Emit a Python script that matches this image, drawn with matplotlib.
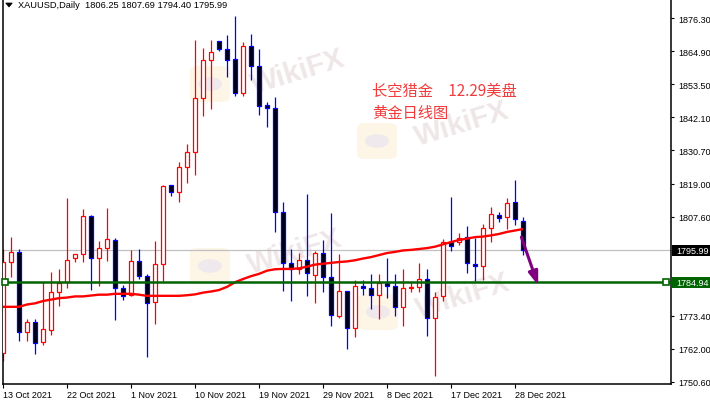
import matplotlib
matplotlib.use('Agg')
import matplotlib.pyplot as plt
from matplotlib.patches import FancyBboxPatch, Circle, Rectangle, Polygon
import matplotlib.transforms as mtransforms
import numpy as np

plt.rcParams['font.family'] = ['Liberation Sans', 'DejaVu Sans']

# ---------------- data (XAUUSD daily, 13 Oct 2021 - 29 Dec 2021, incl. Sunday bars) ----------------
opens = [1760.5, 1792.0, 1795.4, 1767.7, 1771.1, 1764.2, 1768.6, 1781.7, 1785.0, 1793.3,
         1794.9, 1807.8, 1793.5, 1796.7, 1799.5, 1782.9, 1780.7, 1792.2, 1787.1, 1778.1,
         1791.2, 1818.6, 1816.1, 1824.8, 1829.9, 1848.6, 1862.0, 1868.3, 1865.7, 1862.2,
         1850.4, 1866.6, 1859.7, 1846.2, 1845.2, 1809.2, 1791.6, 1789.6, 1792.7, 1787.6,
         1795.0, 1786.7, 1773.4, 1781.9, 1769.1, 1783.6, 1783.0, 1780.7, 1784.7, 1783.6,
         1776.3, 1782.9, 1783.3, 1786.1, 1772.5, 1780.1, 1799.0, 1799.0, 1800.5, 1791.4,
         1790.5, 1803.7, 1808.2, 1807.5, 1812.7, 1806.25]
highs = [1796.5, 1800.5, 1796.5, 1772.3, 1772.3, 1785.0, 1788.4, 1789.6, 1814.1, 1794.9,
         1810.3, 1808.3, 1799.3, 1810.7, 1800.2, 1784.1, 1796.2, 1796.5, 1787.9, 1799.3,
         1818.5, 1818.8, 1826.7, 1832.8, 1868.8, 1866.0, 1868.8, 1868.5, 1870.5, 1877.2,
         1868.0, 1870.9, 1865.7, 1847.2, 1849.0, 1812.7, 1796.5, 1795.1, 1815.5, 1795.9,
         1799.6, 1808.9, 1794.8, 1782.1, 1785.9, 1785.8, 1787.9, 1787.9, 1793.4, 1787.9,
         1789.6, 1785.0, 1791.7, 1789.6, 1781.5, 1800.0, 1814.4, 1802.0, 1804.4, 1800.2,
         1805.2, 1810.9, 1809.2, 1814.0, 1820.4, 1807.69]
lows = [1757.8, 1786.7, 1764.8, 1764.8, 1760.2, 1763.3, 1766.8, 1776.7, 1782.9, 1792.1,
        1792.1, 1782.4, 1783.6, 1792.5, 1772.0, 1779.0, 1780.3, 1786.1, 1759.0, 1770.7,
        1785.4, 1814.9, 1812.7, 1819.2, 1822.2, 1842.6, 1844.9, 1865.1, 1856.1, 1849.5,
        1849.5, 1855.1, 1843.0, 1838.8, 1802.3, 1782.1, 1778.6, 1787.9, 1780.3, 1777.8,
        1781.5, 1770.0, 1772.5, 1761.9, 1766.2, 1780.6, 1775.7, 1772.3, 1779.5, 1773.4,
        1770.0, 1781.7, 1781.7, 1766.5, 1752.7, 1778.5, 1795.9, 1797.9, 1788.2, 1785.5,
        1785.9, 1798.8, 1805.9, 1803.5, 1804.9, 1794.40]
closes = [1792.0, 1795.4, 1767.7, 1771.1, 1764.0, 1768.8, 1781.5, 1784.7, 1792.6, 1794.7,
          1807.8, 1793.5, 1796.7, 1800.0, 1782.9, 1780.1, 1792.2, 1787.3, 1777.8, 1791.2,
          1818.2, 1816.1, 1824.8, 1829.9, 1848.6, 1861.9, 1864.5, 1865.7, 1862.0, 1850.4,
          1866.6, 1859.7, 1845.9, 1845.2, 1809.2, 1791.6, 1789.6, 1792.7, 1788.1, 1795.1,
          1786.7, 1773.7, 1782.1, 1769.1, 1783.6, 1782.9, 1780.7, 1784.6, 1783.6, 1776.3,
          1782.9, 1783.4, 1786.1, 1772.5, 1779.8, 1798.8, 1797.6, 1800.2, 1791.6, 1790.5,
          1803.7, 1808.5, 1807.3, 1812.3, 1806.9, 1795.99]
ma_line = [1776.5, 1776.5, 1776.5, 1777.3, 1777.7, 1778.5, 1779.0, 1779.5, 1779.7, 1780.1,
           1780.1, 1780.4, 1780.7, 1780.7, 1781.0, 1781.0, 1781.0, 1780.7, 1780.3, 1780.3,
           1780.3, 1780.3, 1780.3, 1780.5, 1780.8, 1781.4, 1781.8, 1782.3, 1783.4, 1785.0,
           1786.1, 1787.1, 1787.9, 1789.0, 1789.5, 1789.6, 1789.6, 1789.8, 1790.4, 1791.1,
           1791.4, 1791.7, 1792.0, 1792.2, 1792.6, 1793.2, 1793.7, 1794.4, 1795.1, 1795.5,
           1796.0, 1796.2, 1796.5, 1796.8, 1797.3, 1798.1, 1798.9, 1799.6, 1800.1, 1800.6,
           1800.8, 1801.2, 1801.7, 1802.4, 1802.9, 1803.4]

date_tick_bars = [0, 8, 16, 24, 32, 40, 48, 56, 64]
date_labels = ['13 Oct 2021', '22 Oct 2021', '1 Nov 2021', '10 Nov 2021', '19 Nov 2021',
               '29 Nov 2021', '8 Dec 2021', '17 Dec 2021', '28 Dec 2021']
price_ticks = [1750.60, 1762.00, 1773.40, 1807.60, 1819.00, 1830.70, 1842.10, 1853.50,
               1864.90, 1876.30]
bid_price = 1795.99
level_price = 1784.94
title_text = 'XAUUSD,Daily  1806.25 1807.69 1794.40 1795.99'
note_line1 = '长空猎金\u300012.29美盘'
note_line2 = '黄金日线图'
arrow_start = (64.8, 1800.6)
arrow_end = (66.9, 1783.9)

# ---------------- figure ----------------
W, H = 710, 406
fig = plt.figure(figsize=(W / 100, H / 100), dpi=100, facecolor='white')
ax = fig.add_axes([2.5 / W, (H - 385) / H, 668 / W, 385 / H])
ax.set_facecolor('white')
ax.set_xlim(-0.0625, 83.44)
ax.set_ylim(1749.80, 1882.98)


def fx(px):
    return px / W


def fy(py):
    return 1 - py / H


# watermarks (behind everything)
wms = [((210, 85), (298, 72)), ((210, 267), (295, 252)),
       ((377, 142), (462, 124)), ((378, 313), (463, 296))]
for (lx, ly), (tx, ty) in wms:
    box = FancyBboxPatch((fx(lx - 20), fy(ly + 18)), 40 / W, 36 / H,
                         boxstyle='round,pad=0,rounding_size=0.012',
                         transform=fig.transFigure, fc='#fdf6e6', ec='none',
                         zorder=0.2)
    ax.add_patch(box)
    circ = Circle((fx(lx), fy(ly)), 12 / W, transform=fig.transFigure,
                  fc='#efe9ee', ec='none', zorder=0.3)
    ax.add_patch(circ)
    ax.text(fx(tx), fy(ty), 'WikiFX', transform=fig.transFigure, fontsize=21,
            fontweight='bold', color='#efe7e7', rotation=17, ha='center',
            va='center', zorder=0.4)

x = np.arange(len(opens))
o = np.array(opens)
c = np.array(closes)
hi = np.array(highs)
lo = np.array(lows)
up = c >= o

# bid line
ax.axhline(bid_price, color='#c0c0c0', lw=0.9, zorder=1)

# wicks
ax.vlines(x[up], lo[up], hi[up], colors='#ff0000', lw=0.9, zorder=2)
ax.vlines(x[~up], lo[~up], hi[~up], colors='#0000ff', lw=0.9, zorder=2)

# bodies
bottom = np.minimum(o, c)
height = np.maximum(np.abs(c - o), 0.25)
ax.bar(x[up], height[up], bottom=bottom[up], width=0.5, color='white',
       edgecolor='#ff0000', linewidth=0.9, zorder=3)
ax.bar(x[~up], height[~up], bottom=bottom[~up], width=0.5, color='black',
       edgecolor='#0000ff', linewidth=0.9, zorder=3)

# moving average
ax.plot(x, ma_line, color='#ff0000', lw=1.7, zorder=4, solid_capstyle='butt')

# horizontal level
ax.axhline(level_price, color='#006400', lw=1.8, zorder=5)
ax.plot([0.3, 82.9], [level_price, level_price], ls='none', marker='s', ms=4,
        mfc='white', mec='#006400', mew=1.2, zorder=6, clip_on=False)

# arrow
ax.annotate('', xy=arrow_end, xytext=arrow_start,
            arrowprops=dict(arrowstyle='-|>,head_length=0.8,head_width=0.28',
                            color='#800080', lw=2.2, mutation_scale=10,
                            shrinkA=0, shrinkB=0), zorder=7)

# axes styling
ax.spines['top'].set_visible(False)
for s in ['left', 'right', 'bottom']:
    ax.spines[s].set_color('black')
    ax.spines[s].set_linewidth(1.1)

ax.yaxis.tick_right()
ax.set_yticks(price_ticks)
ax.set_yticklabels(['%.2f' % v for v in price_ticks])
ax.tick_params(axis='y', direction='out', length=2.5, width=0.8, pad=3,
               labelsize=6.5, colors='black')
ax.set_xticks(date_tick_bars)
ax.set_xticklabels(date_labels, ha='left')
ax.tick_params(axis='x', direction='out', length=3, width=0.8, pad=1.5,
               labelsize=6.5, colors='black')

# price boxes on the right axis
trans = mtransforms.blended_transform_factory(ax.transAxes, ax.transData)


def axfrac(px):
    return (px - 2.5) / 668


for price, fc in [(bid_price, 'black'), (level_price, '#006400')]:
    rect = Rectangle((axfrac(671.5), price - 5.5 / 2.891), axfrac(710) - axfrac(671.5),
                     11 / 2.891, transform=trans, fc=fc, ec='none', clip_on=False, zorder=8)
    ax.add_patch(rect)
    ax.text(axfrac(676), price, '%.2f' % price, transform=trans, color='white',
            fontsize=6.5, ha='left', va='center', clip_on=False, zorder=9)

# title
fig.text(fx(18), fy(6), title_text, fontsize=6.7, color='black', ha='left', va='center')
tri = Polygon([[fx(5.7), fy(4)], [fx(12.3), fy(4)], [fx(9), fy(8)]], closed=True,
              transform=fig.transFigure, fc='black', ec='black', lw=0.5)
fig.add_artist(tri)

# Chinese notes
cjk = ['Noto Sans CJK SC', 'DejaVu Sans']
fig.text(fx(372), fy(91), note_line1, fontsize=11, color='#f03c3c', family=cjk,
         ha='left', va='center')
fig.text(fx(372), fy(113.5), note_line2, fontsize=11, color='#f03c3c', family=cjk,
         ha='left', va='center')

fig.savefig('out.png', dpi=100, facecolor='white')
